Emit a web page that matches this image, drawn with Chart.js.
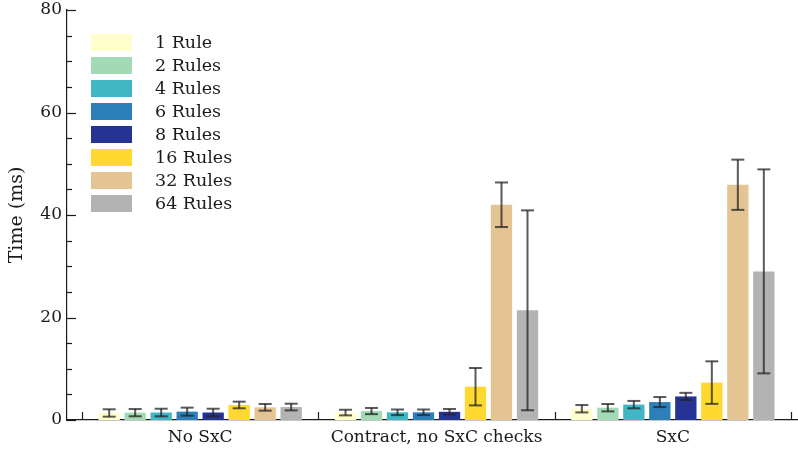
<!DOCTYPE html>
<html>
<head>
<meta charset="utf-8">
<script src="https://cdn.jsdelivr.net/npm/chart.js@4/dist/chart.umd.min.js"></script>
<style>
  html, body { margin: 0; padding: 0; background: #fff; }
  #wrap { width: 798px; height: 452px; }
</style>
</head>
<body>
<div id="wrap"><canvas id="chart"></canvas></div>
<script>
// Groups along the x axis
const categories = ['No SxC', 'Contract, no SxC checks', 'SxC'];

// Series names and fills
const seriesLabels = ['1 Rule', '2 Rules', '4 Rules', '6 Rules', '8 Rules', '16 Rules', '32 Rules', '64 Rules'];
const seriesColors = ['#ffffcc', '#a1dab4', '#41b6c4', '#2c7fb8', '#253494', '#ffd92f', '#e5c494', '#b3b3b3'];

// Mean time (ms) per group, one array per rule count
const time1Rule   = [1.37, 1.45, 2.2];
const time2Rules  = [1.43, 1.75, 2.4];
const time4Rules  = [1.46, 1.5, 3.0];
const time6Rules  = [1.63, 1.5, 3.5];
const time8Rules  = [1.46, 1.6, 4.6];
const time16Rules = [2.93, 6.5, 7.3];
const time32Rules = [2.47, 42.0, 45.9];
const time64Rules = [2.53, 21.4, 29.0];

// Error (± ms) per group
const err1Rule   = [0.72, 0.55, 0.72];
const err2Rules  = [0.71, 0.6, 0.72];
const err4Rules  = [0.74, 0.55, 0.72];
const err6Rules  = [0.78, 0.55, 0.98];
const err8Rules  = [0.74, 0.55, 0.7];
const err16Rules = [0.65, 3.65, 4.15];
const err32Rules = [0.65, 4.35, 4.9];
const err64Rules = [0.65, 19.5, 19.9];

// Y axis ticks
const yLabelTicks = [0, 20, 40, 60, 80];
const yMinorStep = 5;

const seriesValues = [time1Rule, time2Rules, time4Rules, time6Rules, time8Rules, time16Rules, time32Rules, time64Rules];
const seriesErrors = [err1Rule, err2Rules, err4Rules, err6Rules, err8Rules, err16Rules, err32Rules, err64Rules];

const FONT = 'DejaVu Serif';
const INK = '#1a1a1a';

const datasets = seriesLabels.map((label, s) => ({
  label,
  data: seriesValues[s].map((v, i) => ({ x: i, y: v })),
  errors: seriesErrors[s],
  backgroundColor: seriesColors[s],
  borderWidth: 0,
  categoryPercentage: 0.88,
  barPercentage: 0.82
}));

// Error bars with caps, centred on each bar
const errorBars = {
  id: 'errorBars',
  afterDatasetsDraw(chart) {
    const ctx = chart.ctx;
    const y = chart.scales.y;
    ctx.save();
    ctx.strokeStyle = 'rgba(35,35,35,0.75)';
    ctx.lineWidth = 2;
    chart.data.datasets.forEach((ds, di) => {
      const meta = chart.getDatasetMeta(di);
      meta.data.forEach((bar, i) => {
        const v = ds.data[i].y, e = ds.errors[i];
        const yt = y.getPixelForValue(v + e);
        const yb = y.getPixelForValue(v - e);
        const cx = bar.x, hw = 6.5;
        ctx.beginPath(); ctx.moveTo(cx, yt); ctx.lineTo(cx, yb); ctx.stroke();
        ctx.beginPath(); ctx.moveTo(cx - hw, yt); ctx.lineTo(cx + hw, yt); ctx.stroke();
        ctx.beginPath(); ctx.moveTo(cx - hw, yb); ctx.lineTo(cx + hw, yb); ctx.stroke();
      });
    });
    ctx.restore();
  }
};

// Inward tick marks on the y axis and group separators on the x axis
const axisTicks = {
  id: 'axisTicks',
  afterDraw(chart) {
    const ctx = chart.ctx;
    const { left, bottom } = chart.chartArea;
    const y = chart.scales.y, x = chart.scales.x;
    ctx.save();
    ctx.strokeStyle = INK;
    ctx.lineWidth = 1.2;
    for (let v = y.min; v <= y.max; v += yMinorStep) {
      const py = Math.round(y.getPixelForValue(v)) + 0.5;
      const len = yLabelTicks.includes(v) ? 9 : 5;
      ctx.beginPath(); ctx.moveTo(left, py); ctx.lineTo(left + len, py); ctx.stroke();
    }
    for (let i = 0; i <= categories.length; i++) {
      const px = Math.round(x.getPixelForValue(i - 0.5)) + 0.5;
      ctx.beginPath(); ctx.moveTo(px, bottom); ctx.lineTo(px, bottom - 8); ctx.stroke();
    }
    ctx.restore();
  }
};

// Legend block in the upper left of the plot
const boxLegend = {
  id: 'boxLegend',
  afterDraw(chart) {
    const ctx = chart.ctx;
    ctx.save();
    ctx.font = '17.5px "' + FONT + '"';
    ctx.textBaseline = 'middle';
    ctx.textAlign = 'left';
    chart.data.datasets.forEach((ds, i) => {
      const top = 34 + i * 23;
      ctx.fillStyle = ds.backgroundColor;
      ctx.fillRect(91, top, 41, 17);
      ctx.fillStyle = INK;
      ctx.fillText(ds.label, 155, top + 9);
    });
    ctx.restore();
  }
};

new Chart(document.getElementById('chart'), {
  type: 'bar',
  data: { datasets },
  options: {
    responsive: true,
    maintainAspectRatio: false,
    animation: false,
    layout: { padding: { top: 10, right: 0, left: 0, bottom: 0 } },
    plugins: { legend: { display: false }, tooltip: { enabled: false } },
    scales: {
      x: {
        type: 'linear',
        offset: false,
        bounds: 'ticks',
        min: -0.5635,
        max: 2.5296,
        afterBuildTicks(axis) { axis.ticks = categories.map((_, i) => ({ value: i })); },
        afterFit(axis) { axis.height = 32; },
        grid: { display: false, drawTicks: false, offset: false },
        border: { display: true, color: INK, width: 1.2 },
        ticks: {
          autoSkip: false,
          maxRotation: 0,
          padding: 7,
          color: INK,
          font: { family: FONT, size: 17 },
          callback: (v) => categories[v]
        }
      },
      y: {
        min: 0,
        max: 80,
        afterBuildTicks(axis) { axis.ticks = yLabelTicks.map(v => ({ value: v })); },
        afterFit(axis) { axis.width = 67; axis.paddingTop = 0; axis.paddingBottom = 0; },
        grid: { display: false, drawTicks: false },
        border: { display: true, color: INK, width: 1.2 },
        ticks: { padding: 5, color: INK, font: { family: FONT, size: 17, lineHeight: 0.5 } },
        title: {
          display: true,
          text: 'Time (ms)',
          color: INK,
          padding: { top: 6, bottom: 0 },
          font: { family: FONT, size: 19 }
        }
      }
    }
  },
  plugins: [errorBars, axisTicks, boxLegend]
});
</script>
</body>
</html>
